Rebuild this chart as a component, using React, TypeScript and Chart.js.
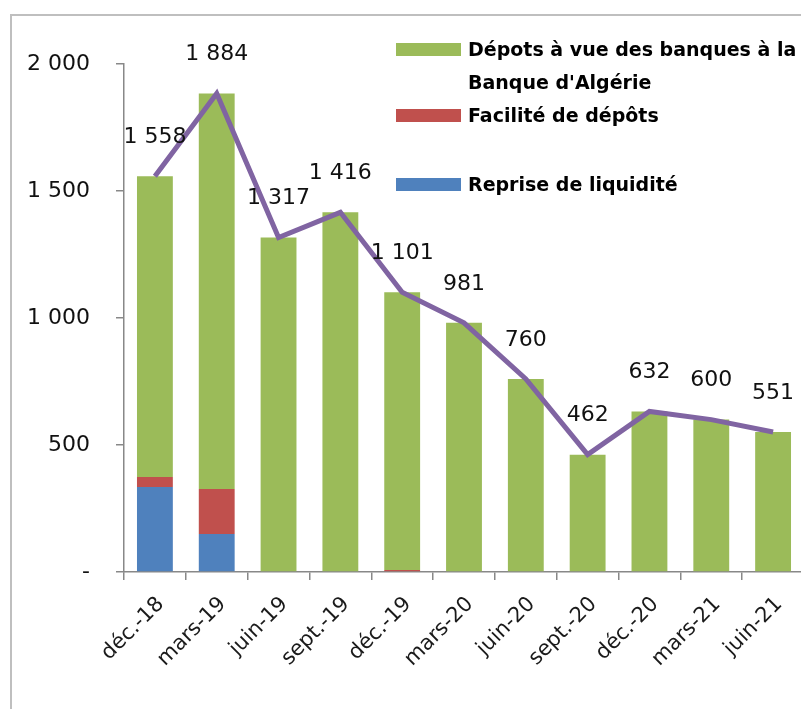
import React, { useEffect, useRef } from "react";
import { Chart, registerables } from "chart.js";

Chart.register(...registerables);

const categories = ["déc.-18", "mars-19", "juin-19", "sept.-19", "déc.-19", "mars-20", "juin-20", "sept.-20", "déc.-20", "mars-21", "juin-21"];
const repriseLiquidite = [335, 150, 0, 0, 0, 0, 0, 0, 0, 0, 0];
const faciliteDepots = [39, 177, 0, 0, 8, 0, 0, 0, 0, 0, 0];
const depotsVue = [1184, 1557, 1317, 1416, 1093, 981, 760, 462, 632, 600, 551];
const totals = [1558, 1884, 1317, 1416, 1101, 981, 760, 462, 632, 600, 551];
const yTicks = [0, 500, 1000, 1500, 2000];
const yTickLabels = ["-", "500", "1 000", "1 500", "2 000"];
const legendItems = [
  { lines: ["Dépots à vue des banques à la", "Banque d'Algérie"], color: "#9BBB59" },
  { lines: ["Facilité de dépôts"], color: "#C0504D" },
  { lines: ["Reprise de liquidité"], color: "#4F81BD" },
];

const fmt = (v: number) => {
  const s = String(v);
  return s.length > 3 ? s.slice(0, s.length - 3) + " " + s.slice(-3) : s;
};

const overlay = {
  id: "overlay",
  beforeDraw(chart: any) {
    const ctx = chart.ctx;
    ctx.save();
    ctx.strokeStyle = "#BFBFBF";
    ctx.lineWidth = 2;
    ctx.strokeRect(11, 15, 1000, 1000);
    ctx.restore();
  },
  afterDatasetsDraw(chart: any) {
    const ctx = chart.ctx;
    const meta = chart.getDatasetMeta(3);
    ctx.save();
    ctx.font = "22px 'DejaVu Sans'";
    ctx.fillStyle = "#111";
    ctx.textAlign = "center";
    ctx.textBaseline = "middle";
    meta.data.forEach((pt: any, i: number) => {
      ctx.fillText(fmt(totals[i]), pt.x, pt.y - 39);
    });
    ctx.restore();
  },
  afterDraw(chart: any) {
    const ctx = chart.ctx;
    ctx.save();
    ctx.font = "bold 19px 'DejaVu Sans'";
    ctx.textAlign = "left";
    ctx.textBaseline = "alphabetic";
    const swatchTops = [43, 109, 178];
    const baselines = [56, 122, 191];
    legendItems.forEach((item, i) => {
      ctx.fillStyle = item.color;
      ctx.fillRect(396, swatchTops[i], 65, 13);
      ctx.fillStyle = "#000";
      item.lines.forEach((ln, j) => {
        ctx.fillText(ln, 468, baselines[i] + j * 33);
      });
    });
    ctx.restore();
  },
};

export default function App() {
  const ref = useRef<HTMLCanvasElement>(null);
  useEffect(() => {
    const canvas = ref.current!;
    const chart = new Chart(canvas, {
      type: "bar",
      data: {
        labels: categories,
        datasets: [
          { type: "bar", label: "Reprise de liquidité", data: repriseLiquidite, backgroundColor: "#4F81BD", order: 1, stack: "s" },
          { type: "bar", label: "Facilité de dépôts", data: faciliteDepots, backgroundColor: "#C0504D", order: 1, stack: "s" },
          { type: "bar", label: "Dépots à vue des banques à la Banque d'Algérie", data: depotsVue, backgroundColor: "#9BBB59", order: 1, stack: "s" },
          { type: "line", label: "Total", data: totals, borderColor: "#8064A2", borderWidth: 5, pointRadius: 0, tension: 0, fill: false, order: 0, stack: "t" } as any,
        ],
      },
      options: {
        responsive: false,
        animation: false,
        devicePixelRatio: 1,
        layout: { padding: { left: 0, right: 26, top: 64, bottom: 0 } },
        plugins: { legend: { display: false }, tooltip: { enabled: false } },
        datasets: { bar: { categoryPercentage: 1, barPercentage: 0.58 } },
        scales: {
          x: {
            stacked: true,
            grid: { drawOnChartArea: false, tickLength: 8, color: "#888", lineWidth: 1.5 },
            border: { color: "#888", width: 1.5 },
            ticks: { maxRotation: 45, minRotation: 45, labelOffset: 6, font: { family: "'DejaVu Sans'", size: 21 }, color: "#1a1a1a", padding: 12, autoSkip: false },
            afterFit: (s: any) => { s.height = 137; },
          },
          y: {
            stacked: true,
            min: 0,
            max: 2000,
            afterBuildTicks: (s: any) => { s.ticks = yTicks.map((v) => ({ value: v })); },
            grid: { drawOnChartArea: false, tickLength: 8, color: "#888", lineWidth: 1.5 },
            border: { color: "#888", width: 1.5 },
            ticks: {
              font: { family: "'DejaVu Sans'", size: 22 },
              color: "#111",
              padding: 26,
              callback: (v: any) => yTickLabels[yTicks.indexOf(Number(v))] ?? "",
            },
            afterFit: (s: any) => { s.width = 124; },
          },
        },
      },
      plugins: [overlay],
    });
    return () => chart.destroy();
  }, []);
  return (
    <div style={{ position: "fixed", left: 0, top: 0, width: 801, height: 709, overflow: "hidden", background: "#fff" }}>
      <canvas ref={ref} width={830} height={709} style={{ display: "block", width: 830, height: 709 }} />
    </div>
  );
}
